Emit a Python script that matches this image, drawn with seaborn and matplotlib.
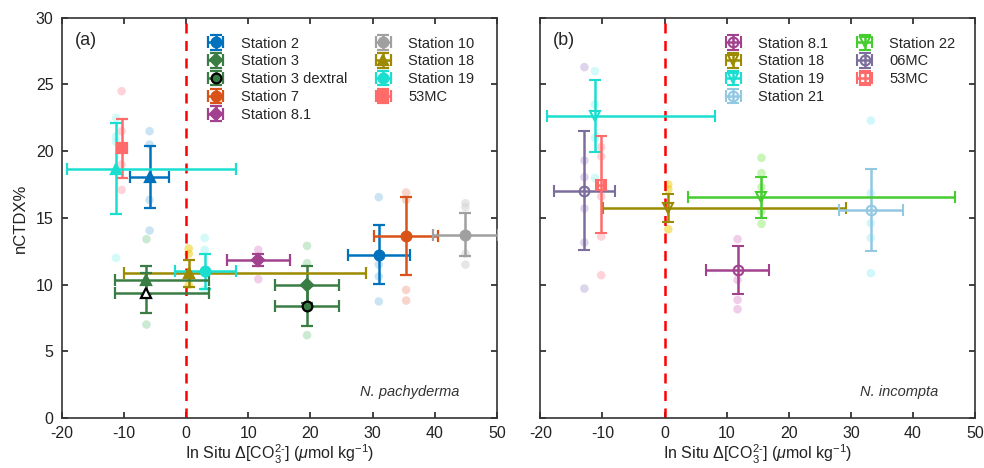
import matplotlib
matplotlib.use('Agg')
import matplotlib.pyplot as plt
import seaborn as sns
import pandas as pd

sns.set_style('ticks')
plt.rcParams['font.family'] = ['Liberation Sans', 'DejaVu Sans']
plt.rcParams['mathtext.fontset'] = 'custom'
plt.rcParams['mathtext.rm'] = 'Liberation Sans'
plt.rcParams['mathtext.it'] = 'Liberation Sans:italic'
plt.rcParams['axes.unicode_minus'] = False

# --- panel (a): N. pachyderma, station means ---
a_station = ['Station 2', 'Station 3', 'Station 3 dextral', 'Station 7', 'Station 8.1',
             'Station 10', 'Station 18', 'Station 19', '53MC',
             'Station 2', 'Station 3', 'Station 3 dextral', 'Station 19']
a_x = [31.0, 19.45, 19.45, 35.4, 11.6, 44.95, 0.4, 2.97, -10.4, -5.9, -6.4, -6.4, -11.3]
a_y = [12.25, 9.98, 8.4, 13.65, 11.85, 13.75, 10.85, 10.98, 20.2, 18.05, 10.35, 9.35, 18.7]
a_xlo = [5.0, 5.1, 5.1, 5.1, 5.05, 5.2, 10.4, 4.8, 0.5, 3.2, 5.1, 5.1, 7.9]
a_xhi = [5.0, 5.1, 5.1, 5.1, 5.05, 5.2, 28.6, 5.1, 0.5, 3.2, 10.0, 10.0, 19.35]
a_yerr = [2.2, 1.4, 1.5, 2.9, 0.45, 1.6, 1.0, 1.3, 2.2, 2.3, 1.05, 1.5, 3.4]

# individual specimens (faint dots)
a_raw_station = (['Station 2'] * 8 + ['Station 3'] * 5 + ['Station 7'] * 4 + ['Station 10'] * 4
                 + ['Station 8.1'] * 2 + ['Station 18'] * 3 + ['Station 19'] * 7 + ['53MC'] * 4)
a_raw_x = ([-5.9] * 4 + [31.0] * 4 + [-6.4] * 2 + [19.45] * 3 + [35.4] * 4 + [44.95] * 4
           + [11.6] * 2 + [0.4] * 3 + [-11.3] * 4 + [2.97] * 3 + [-10.4] * 4)
a_raw_y = [21.5, 20.5, 16.35, 14.05, 16.55, 11.5, 10.6, 8.73,
           13.4, 7.0, 12.9, 11.6, 6.2,
           16.9, 16.35, 9.6, 8.8,
           16.1, 15.8, 12.3, 11.5,
           12.6, 10.4,
           12.7, 12.3, 9.98,
           22.5, 21.1, 20.7, 12.0, 13.5, 12.6, 9.6,
           24.5, 17.1, 19.0, 21.5]

# --- panel (b): N. incompta ---
b_station = ['Station 8.1', 'Station 18', 'Station 19', 'Station 21', 'Station 22', '06MC', '53MC']
b_x = [11.75, 0.6, -11.2, 33.2, 15.6, -12.9, -10.2]
b_y = [11.1, 15.75, 22.6, 15.6, 16.55, 17.05, 17.5]
b_xlo = [5.0, 10.5, 7.7, 5.15, 11.9, 4.85, 0.5]
b_xhi = [5.0, 28.6, 19.3, 5.15, 31.2, 4.85, 0.5]
b_yerr = [1.8, 1.05, 2.7, 3.05, 1.55, 4.45, 3.65]

b_raw_station = (['06MC'] * 6 + ['Station 19'] * 4 + ['53MC'] * 5 + ['Station 18'] * 3
                 + ['Station 22'] * 5 + ['Station 21'] * 5 + ['Station 8.1'] * 4)
b_raw_x = ([-12.9] * 6 + [-11.2] * 4 + [-10.2] * 5 + [0.6] * 3 + [15.6] * 5 + [33.2] * 5 + [11.75] * 4)
b_raw_y = [26.3, 19.3, 18.05, 15.7, 13.15, 9.7,
           26.0, 23.5, 21.0, 18.0,
           20.3, 19.6, 16.6, 13.6, 10.7,
           17.5, 17.15, 14.15,
           19.5, 18.35, 17.3, 15.5, 14.55,
           22.3, 16.85, 14.6, 13.5, 10.85,
           13.4, 10.35, 8.85, 8.15]

# styles
colors = {'Station 2': '#0072BD', 'Station 3': '#3A7D44', 'Station 3 dextral': '#3A7D44',
          'Station 7': '#D95319', 'Station 8.1': '#A2428F', 'Station 10': '#A0A0A0',
          'Station 18': '#9C8B00', 'Station 19': '#1ADFD0', '53MC': '#FF6B6B',
          'Station 21': '#93C8E2', 'Station 22': '#45CC2E', '06MC': '#7B6E9C'}
faint = {'Station 2': '#A9D3EC', 'Station 3': '#A9DDB3', 'Station 7': '#F2B9A8',
         'Station 8.1': '#E6AEDC', 'Station 10': '#D6D6D6', 'Station 18': '#F0D22A',
         'Station 19': '#B3F7F5', '53MC': '#FFB8BE', 'Station 21': '#B3F3FA',
         'Station 22': '#A4F08A', '06MC': '#C6BADF'}
a_marker = ['o', 'D', 'o', 'o', 'D', 'o', '^', 'o', 's', '^', '^', '^', '^']
a_face = [None, None, None, None, None, None, None, None, None, None, None, 'white', None]
a_edge = [None, None, 'black', None, None, None, None, None, None, None, None, 'black', None]
b_marker = ['o', 'v', 'v', 'o', 'v', 'o', 's']

fig, axes = plt.subplots(1, 2, figsize=(9.84, 4.68), dpi=100)
fig.subplots_adjust(left=0.063, right=0.991, bottom=0.107, top=0.962, wspace=0.1)

raw_a = pd.DataFrame({'station': a_raw_station, 'x': a_raw_x, 'y': a_raw_y})
raw_b = pd.DataFrame({'station': b_raw_station, 'x': b_raw_x, 'y': b_raw_y})
sns.scatterplot(data=raw_a, x='x', y='y', hue='station', palette=faint, s=38,
                alpha=0.6, edgecolor='none', legend=False, ax=axes[0], zorder=1)
sns.scatterplot(data=raw_b, x='x', y='y', hue='station', palette=faint, s=38,
                alpha=0.6, edgecolor='none', legend=False, ax=axes[1], zorder=1)

ax = axes[0]
seen = set()
for i, st in enumerate(a_station):
    c = colors[st]
    lab = st if st not in seen else None
    seen.add(st)
    ax.errorbar(a_x[i], a_y[i], xerr=[[a_xlo[i]], [a_xhi[i]]], yerr=a_yerr[i],
                fmt=a_marker[i], color=c, mfc=a_face[i] or c, mec=a_edge[i] or c,
                mew=1.6, ms=7 if a_marker[i] != 'D' else 6, elinewidth=1.8,
                capsize=4, capthick=1.8, label=lab, zorder=3)

ax = axes[1]
for i, st in enumerate(b_station):
    c = colors[st]
    ax.errorbar(b_x[i], b_y[i], xerr=[[b_xlo[i]], [b_xhi[i]]], yerr=b_yerr[i],
                fmt=b_marker[i], color=c, mfc='none', mec=c, mew=1.5, ms=7,
                elinewidth=1.8, capsize=4, capthick=1.8, label=st, zorder=3)

for ax, tag, species in zip(axes, ['(a)', '(b)'], ['N. pachyderma', 'N. incompta']):
    ax.axvline(0, color='#FF0000', lw=1.8, ls=(0, (4, 3)), zorder=2)
    ax.set_xlim(-20, 50)
    ax.set_ylim(0, 30)
    ax.set_xticks(range(-20, 51, 10))
    ax.set_yticks(range(0, 31, 5))
    ax.tick_params(direction='in', top=True, right=True, length=4, width=1.2,
                   labelsize=11.5, colors='#222222')
    ax.tick_params(axis='x', pad=6)
    ax.tick_params(axis='y', pad=6)
    for sp in ax.spines.values():
        sp.set_linewidth(1.2)
        sp.set_color('#333333')
    ax.set_xlabel(r'In Situ $\Delta$[CO$_3^{2\text{-}}$] ($\mathit{\mu}$mol kg$^{-1}$)',
                  fontsize=11.5, color='#222222', labelpad=1)
    ax.set_ylabel('')
    ax.text(0.03, 0.965, tag, transform=ax.transAxes, fontsize=13, va='top', ha='left')
    ax.text(0.915, 0.065, species, transform=ax.transAxes, fontsize=10.5,
            style='italic', ha='right', va='center', color='#333333')

axes[0].set_ylabel('nCTDX%', fontsize=12, color='#222222', labelpad=6)
axes[1].tick_params(labelleft=False)

axes[0].legend(loc='upper left', bbox_to_anchor=(0.3, 0.975), ncol=2, frameon=False,
               fontsize=10.5, labelspacing=0.26, handlelength=2.0, handletextpad=0.7,
               columnspacing=1.5, borderaxespad=0.2)
axes[1].legend(loc='upper left', bbox_to_anchor=(0.39, 0.975), ncol=2, frameon=False,
               fontsize=10.5, labelspacing=0.26, handlelength=2.0, handletextpad=0.7,
               columnspacing=1.5, borderaxespad=0.2)

plt.savefig('out.png', dpi=100)
